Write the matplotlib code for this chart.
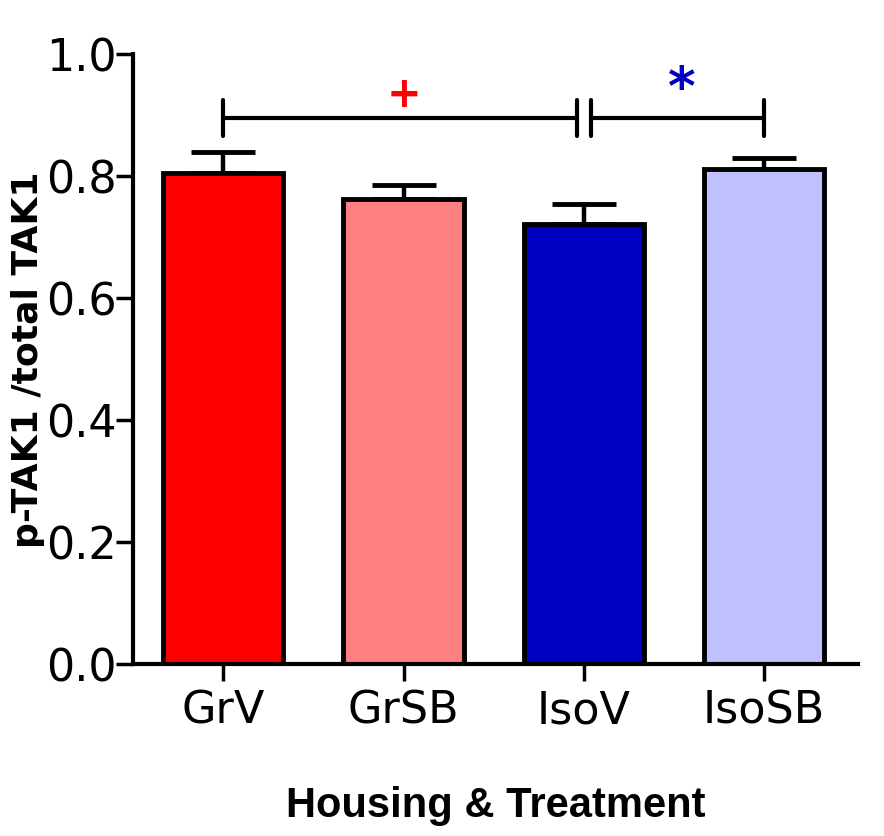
import matplotlib.pyplot as plt
import numpy as np

groups = ['GrV', 'GrSB', 'IsoV', 'IsoSB']
means = [0.805, 0.762, 0.721, 0.811]
sems = [0.034, 0.023, 0.033, 0.019]
colors = ['#ff0000', '#ff8080', '#0000c0', '#c0c0ff']

yticks = [0.0, 0.2, 0.4, 0.6, 0.8, 1.0]

# significance brackets: (from, to, label, colour)
sig_y = 0.895
sig_h = 0.03
gap = 0.04
sig = [(0, 2 - gap, '+', '#ff0000', 30), (2 + gap, 3, '*', '#0000c0', 38)]

fig = plt.figure(figsize=(8.84, 8.37), dpi=100)
ax = fig.add_axes([0.1505, 0.2055, 0.8201, 0.7288])

index = np.arange(len(groups))
ax.bar(index, means, 0.667, color=colors, edgecolor='black', linewidth=3.5, zorder=2)
ax.errorbar(index, means, yerr=[np.zeros(len(sems)), sems], fmt='none',
            ecolor='black', elinewidth=3.2, capsize=23, capthick=3.5, zorder=1)

for x0, x1, label, c, fs in sig:
    ax.plot([x0, x1], [sig_y, sig_y], color='black', lw=3, solid_capstyle='round')
    for x in (x0, x1):
        ax.plot([x, x], [sig_y - sig_h, sig_y + sig_h], color='black', lw=3,
                solid_capstyle='round')
    ax.text((x0 + x1) / 2 + 0.02, sig_y + 0.005, label, color=c, ha='center',
            va='bottom', fontsize=fs, fontweight='heavy')

ax.set_xlim(-0.5, 3.52)
ax.set_ylim(0, 1.0)
ax.set_yticks(yticks)
ax.set_yticklabels(['%.1f' % v for v in yticks])
ax.set_xticks(index)
ax.set_xticklabels(groups)

for s in ['top', 'right']:
    ax.spines[s].set_visible(False)
for s in ['left', 'bottom']:
    ax.spines[s].set_linewidth(3)

ax.tick_params(axis='y', length=12, width=2.5, labelsize=32, pad=0)
ax.tick_params(axis='x', length=12, width=2.5, labelsize=32, pad=6)

ax.set_xlabel('Housing & Treatment', fontsize=30, fontweight='bold',
              family='Liberation Sans', labelpad=38)
ax.set_ylabel('p-TAK1 /total TAK1', fontsize=26, fontweight='bold')
ax.yaxis.set_label_coords(-0.122, 0.5)

fig.savefig('out.png', dpi=100)
